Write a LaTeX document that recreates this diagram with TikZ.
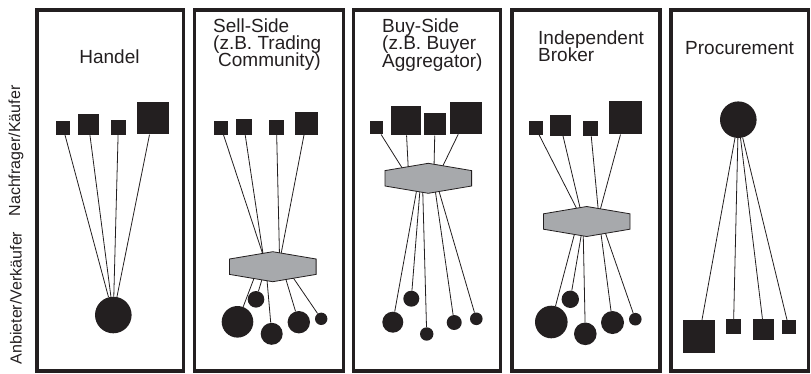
\documentclass[tikz,border=0pt]{standalone}
\usepackage{fontspec}
\setmainfont{Liberation Sans}
\usetikzlibrary{calc}
\definecolor{ink}{HTML}{231F20}
\definecolor{hubgray}{HTML}{A7A9AC}

% title font with fixed, tight line spacing
\newcommand\titlefont{\fontsize{19}{17.4}\selectfont
  \setlength{\lineskiplimit}{-50pt}\setlength{\lineskip}{0pt}}

% flat hexagon (market hub) around a named centre
\newcommand\hubshape[1]{%
  \filldraw[hub] ($(#1)+(-43.3,-7.7)$) -- ($(#1)+(0,-15)$) -- ($(#1)+(43.3,-7.7)$)
    -- ($(#1)+(43.3,7.7)$) -- ($(#1)+(0,15)$) -- ($(#1)+(-43.3,7.7)$) -- cycle;}

\begin{document}
\begin{tikzpicture}[x=1pt,y=-1pt,
  panel/.style={draw=ink,line width=3.5pt},
  title/.style={inner sep=0pt,anchor=base west,align=left,text=ink,font=\titlefont},
  side/.style={inner sep=0pt,text=ink,rotate=90,font=\fontsize{16}{16}\selectfont},
  sq/.style={rectangle,fill=ink,inner sep=0pt,minimum size=#1},
  dot/.style={circle,fill=ink,inner sep=0pt,minimum size=#1},
  link/.style={draw=ink,line width=0.8pt},
  hub/.style={fill=hubgray,draw=ink,line width=0.8pt,line join=miter}
]
\useasboundingbox (0,0) rectangle (811,373);

% frames
\draw[panel] (37,10) rectangle (183.5,371);
\draw[panel] (194.7,10) rectangle (343.7,371);
\draw[panel] (353.5,10) rectangle (500.7,371);
\draw[panel] (512,10) rectangle (660,371);
\draw[panel] (671,10) rectangle (808.5,371);

% side labels
\node[side] (lBuyer) at (16,151) {Nachfrager/Käufer};
\node[side] (lSeller) at (16,298) {Anbieter/Verkäufer};

% titles (multi-line titles are placed by the baseline of their last line)
\node[title,anchor=base] (tHandel) at (109.5,63) {Handel};
\node[title] (tSell) at (213,66.9) {Sell-Side\\(z.B. Trading\\\hspace{5pt}Community)};
\node[title] (tBuy) at (382,67) {Buy-Side\\(z.B. Buyer\\Aggregator)};
\node[title] (tInd) at (538,61.5) {Independent\\Broker};
\node[title] (tProc) at (685,54) {Procurement};

% Handel
\node[sq=14pt] (h1) at (63,127.5) {};
\node[sq=21pt] (h2) at (88.5,124) {};
\node[sq=15pt] (h3) at (118.3,127) {};
\node[sq=32.5pt] (h4) at (152.8,118.2) {};
\node[dot=36.6pt] (hc) at (113.3,315) {};
\foreach \s in {h1,h2,h3,h4} \draw[link] (\s) -- (hc);

% Sell-Side
\coordinate (hub2) at (272.8,266.7);
\node[sq=14pt] (s1) at (221.2,127.8) {};
\node[sq=16pt] (s2) at (244,126.8) {};
\node[sq=15pt] (s3) at (276.5,127.3) {};
\node[sq=23pt] (s4) at (306.3,123) {};
\node[dot=31.6pt] (c1) at (237.5,321.8) {};
\node[dot=16.6pt] (c2) at (256,299.3) {};
\node[dot=22pt] (c3) at (271.7,333.8) {};
\node[dot=22.4pt] (c4) at (298.8,322.2) {};
\node[dot=12.4pt] (c5) at (321.2,318.8) {};
\draw[link] (s1) -- ($(hub2)+(-9.5,-11)$);
\draw[link] (s2) -- ($(hub2)+(-9.5,-11)$);
\draw[link] (s3) -- ($(hub2)+(6.7,-11)$);
\draw[link] (s4) -- ($(hub2)+(7.9,-11)$);
\draw[link] ($(hub2)+(-17.8,9)$) -- (c1);
\draw[link] ($(hub2)+(-10,10)$) -- (c2);
\draw[link] ($(hub2)+(-6,11)$) -- (c3);
\draw[link] ($(hub2)+(12,9)$) -- (c4);
\draw[link] ($(hub2)+(19,9)$) -- (c5);
\hubshape{hub2}

% Buy-Side
\coordinate (hub3) at (428.3,178.3);
\node[sq=13.5pt] (b1) at (376.7,127.5) {};
\node[sq=29.7pt] (b2) at (405.8,120.4) {};
\node[sq=22pt] (b3) at (435,124.3) {};
\node[sq=32.5pt] (b4) at (466.2,117.8) {};
\node[dot=21pt] (d1) at (392.8,322.2) {};
\node[dot=16pt] (d2) at (411.3,298.7) {};
\node[dot=13.4pt] (d3) at (426.7,334) {};
\node[dot=15pt] (d4) at (454.2,322.5) {};
\node[dot=12.6pt] (d5) at (476.3,318.8) {};
\draw[link] (b1) -- ($(hub3)+(-25,-8.5)$);
\draw[link] (b2) -- ($(hub3)+(-20,-9)$);
\draw[link] (b3) -- ($(hub3)+(5.7,-11)$);
\draw[link] (b4) -- ($(hub3)+(13.4,-10)$);
\draw[link] ($(hub3)+(-11.3,10)$) -- (d1);
\draw[link] ($(hub3)+(-8.3,11)$) -- (d2);
\draw[link] ($(hub3)+(-5.6,11)$) -- (d3);
\draw[link] ($(hub3)+(6.7,10.5)$) -- (d4);
\draw[link] ($(hub3)+(10,10.5)$) -- (d5);
\hubshape{hub3}

% Independent Broker
\coordinate (hub4) at (586.7,221.5);
\node[sq=14pt] (e1) at (535.5,127.8) {};
\node[sq=21pt] (e2) at (560.5,125.3) {};
\node[sq=15.5pt] (e3) at (590.5,128.3) {};
\node[sq=33pt] (e4) at (625,117.8) {};
\node[dot=32.6pt] (f1) at (551.3,322) {};
\node[dot=17.4pt] (f2) at (570.3,299.3) {};
\node[dot=22.6pt] (f3) at (585.3,333.8) {};
\node[dot=23pt] (f4) at (612.5,322.5) {};
\node[dot=12.6pt] (f5) at (635.3,319.2) {};
\draw[link] (e1) -- ($(hub4)+(-9,-11)$);
\draw[link] (e2) -- ($(hub4)+(-6,-11)$);
\draw[link] (e3) -- ($(hub4)+(11.6,-11)$);
\draw[link] (e4) -- ($(hub4)+(13.3,-11)$);
\draw[link] ($(hub4)+(-11.7,10.5)$) -- (f1);
\draw[link] ($(hub4)+(-5,11)$) -- (f2);
\draw[link] ($(hub4)+(-3.5,11)$) -- (f3);
\draw[link] ($(hub4)+(14,10)$) -- (f4);
\draw[link] ($(hub4)+(18,9.5)$) -- (f5);
\hubshape{hub4}

% Procurement
\node[dot=36.6pt] (pc) at (738.3,119.7) {};
\node[sq=32.7pt] (g1) at (699,336.3) {};
\node[sq=15pt] (g2) at (733.5,326.5) {};
\node[sq=20.7pt] (g3) at (763.7,329.3) {};
\node[sq=13.7pt] (g4) at (788.8,327.3) {};
\foreach \s in {g1,g2,g3,g4} \draw[link] (pc) -- (\s);
\end{tikzpicture}
\end{document}
